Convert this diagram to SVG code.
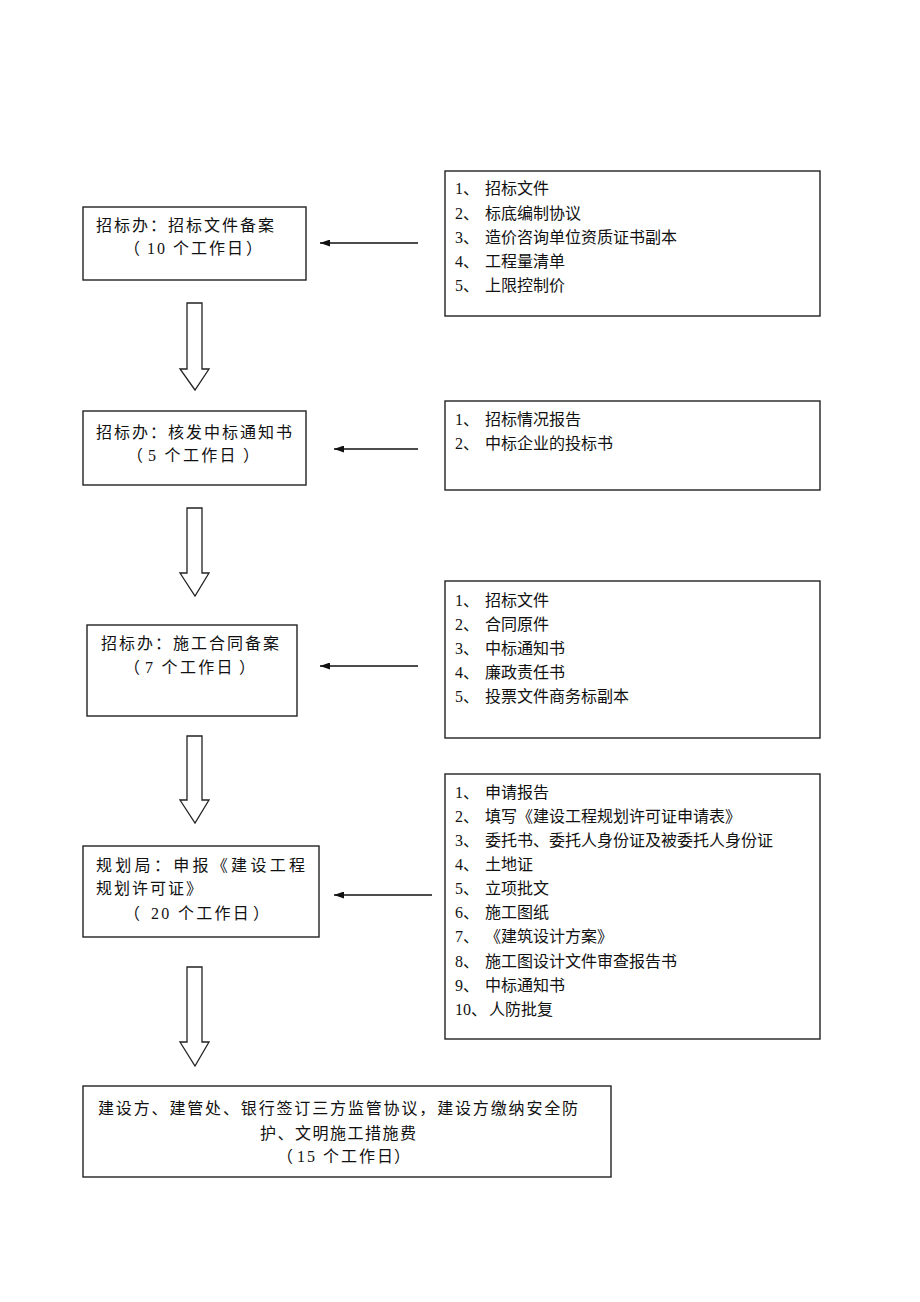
<svg xmlns="http://www.w3.org/2000/svg" width="920" height="1302" viewBox="0 0 920 1302">
<defs>
<style>
.box{fill:#fff;stroke:#222;stroke-width:1.4}
.t{font-family:"Liberation Serif","Noto Sans CJK SC",serif;font-size:16px;fill:#111}
.l{letter-spacing:2px}
.d{letter-spacing:2.3px}
.conn{stroke:#111;stroke-width:1.4;fill:none}
.blk{fill:#fff;stroke:#222;stroke-width:1.3}
</style>
<marker id="ah" viewBox="0 0 10 10" refX="10" refY="5" markerWidth="10" markerHeight="7" markerUnits="userSpaceOnUse" orient="auto" preserveAspectRatio="none">
<path d="M0,0 L10,5 L0,10 Z" fill="#111"/>
</marker>
</defs>
<rect width="920" height="1302" fill="#fff"/>

<g id="node1">
<rect class="box" x="83" y="207" width="223" height="73"/>
<text class="t l" x="96" y="231">招标办：招标文件备案</text>
<text class="t" y="254"><tspan x="124">（</tspan><tspan x="147" class="l">10 个工作日</tspan><tspan x="246">）</tspan></text>
</g>
<g id="docs1">
<rect class="box" x="445" y="171" width="375" height="145"/>
<text class="t" y="194"><tspan x="455">1、</tspan><tspan x="485">招标文件</tspan></text>
<text class="t" y="219"><tspan x="455">2、</tspan><tspan x="485">标底编制协议</tspan></text>
<text class="t" y="243"><tspan x="455">3、</tspan><tspan x="485">造价咨询单位资质证书副本</tspan></text>
<text class="t" y="267"><tspan x="455">4、</tspan><tspan x="485">工程量清单</tspan></text>
<text class="t" y="291"><tspan x="455">5、</tspan><tspan x="485">上限控制价</tspan></text>
</g>

<g id="node2">
<rect class="box" x="83" y="411" width="223" height="74"/>
<text class="t l" x="96" y="438">招标办：核发中标通知书</text>
<text class="t" y="461"><tspan x="127">（</tspan><tspan x="148" class="d">5 个工作日</tspan><tspan x="243">）</tspan></text>
</g>
<g id="docs2">
<rect class="box" x="445" y="401" width="375" height="89"/>
<text class="t" y="425"><tspan x="455">1、</tspan><tspan x="485">招标情况报告</tspan></text>
<text class="t" y="449"><tspan x="455">2、</tspan><tspan x="485">中标企业的投标书</tspan></text>
</g>

<g id="node3">
<rect class="box" x="87" y="625" width="210" height="91"/>
<text class="t l" x="101" y="649">招标办：施工合同备案</text>
<text class="t" y="673"><tspan x="124">（</tspan><tspan x="145" class="d">7 个工作日</tspan><tspan x="239">）</tspan></text>
</g>
<g id="docs3">
<rect class="box" x="445" y="581" width="375" height="157"/>
<text class="t" y="606"><tspan x="455">1、</tspan><tspan x="485">招标文件</tspan></text>
<text class="t" y="630"><tspan x="455">2、</tspan><tspan x="485">合同原件</tspan></text>
<text class="t" y="654"><tspan x="455">3、</tspan><tspan x="485">中标通知书</tspan></text>
<text class="t" y="678"><tspan x="455">4、</tspan><tspan x="485">廉政责任书</tspan></text>
<text class="t" y="702"><tspan x="455">5、</tspan><tspan x="485">投票文件商务标副本</tspan></text>
</g>

<g id="node4">
<rect class="box" x="83" y="846" width="236" height="91"/>
<text class="t" x="96" y="871" style="letter-spacing:3.3px">规划局：申报《建设工程</text>
<text class="t l" x="96" y="894">规划许可证》</text>
<text class="t" y="919"><tspan x="124">（</tspan><tspan x="151" class="d">20 个工作日</tspan><tspan x="253">）</tspan></text>
</g>
<g id="docs4">
<rect class="box" x="445" y="774" width="375" height="265"/>
<text class="t" y="798"><tspan x="455">1、</tspan><tspan x="485">申请报告</tspan></text>
<text class="t" y="822"><tspan x="455">2、</tspan><tspan x="485">填写《建设工程规划许可证申请表》</tspan></text>
<text class="t" y="846"><tspan x="455">3、</tspan><tspan x="485">委托书、委托人身份证及被委托人身份证</tspan></text>
<text class="t" y="870"><tspan x="455">4、</tspan><tspan x="485">土地证</tspan></text>
<text class="t" y="894"><tspan x="455">5、</tspan><tspan x="485">立项批文</tspan></text>
<text class="t" y="918"><tspan x="455">6、</tspan><tspan x="485">施工图纸</tspan></text>
<text class="t" y="942"><tspan x="455">7、</tspan><tspan x="485">《建筑设计方案》</tspan></text>
<text class="t" y="967"><tspan x="455">8、</tspan><tspan x="485">施工图设计文件审查报告书</tspan></text>
<text class="t" y="991"><tspan x="455">9、</tspan><tspan x="485">中标通知书</tspan></text>
<text class="t" y="1015"><tspan x="455">10、</tspan><tspan x="489">人防批复</tspan></text>
</g>

<g id="node5">
<rect class="box" x="83" y="1086" width="528" height="91"/>
<text class="t" x="98" y="1114" style="letter-spacing:1.85px">建设方、建管处、银行签订三方监管协议，建设方缴纳安全防</text>
<text class="t" x="260" y="1139" style="letter-spacing:1.5px">护、文明施工措施费</text>
<text class="t" y="1162"><tspan x="277">（</tspan><tspan x="297" class="l">15 个工作日</tspan><tspan x="394">）</tspan></text>
</g>

<g id="connectors">
<line class="conn" x1="418" y1="243" x2="320" y2="243" marker-end="url(#ah)"/>
<line class="conn" x1="418" y1="449" x2="334" y2="449" marker-end="url(#ah)"/>
<line class="conn" x1="418" y1="666" x2="320" y2="666" marker-end="url(#ah)"/>
<line class="conn" x1="432" y1="895" x2="334" y2="895" marker-end="url(#ah)"/>
<path class="blk" d="M187,303 H202 V369 H209 L195,390 L180,369 H187 Z"/>
<path class="blk" d="M187,508 H202 V573 H209 L195,596 L180,573 H187 Z"/>
<path class="blk" d="M187,736 H202 V800 H209 L195,823 L180,800 H187 Z"/>
<path class="blk" d="M187,967 H202 V1042 H209 L195,1066 L180,1042 H187 Z"/>
</g>
</svg>
